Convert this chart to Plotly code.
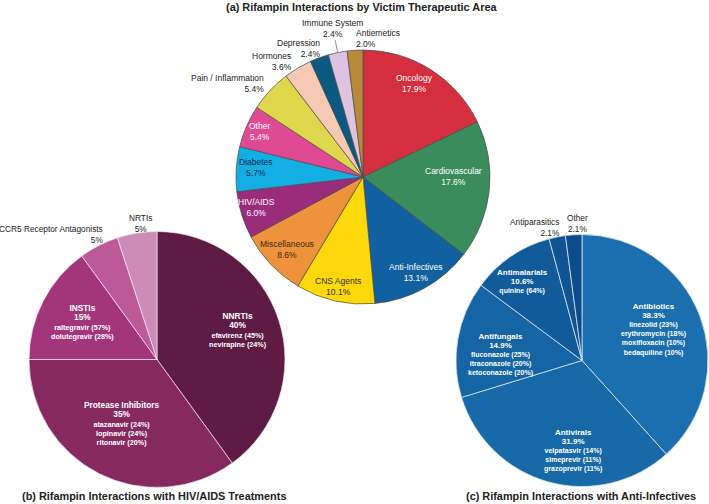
import math
import plotly.graph_objects as go

W, H = 709, 504

# ---------------- data ----------------
area_labels = ["Oncology", "Cardiovascular", "Anti-Infectives", "CNS Agents", "Miscellaneous",
               "HIV/AIDS", "Diabetes", "Other", "Pain / Inflammation", "Hormones",
               "Depression", "Immune System", "Antiemetics"]
area_values = [17.9, 17.6, 13.1, 10.1, 8.6, 6.0, 5.7, 5.4, 5.4, 3.6, 2.4, 2.4, 2.0]

hiv_labels = ["NNRTIs", "Protease Inhibitors", "INSTIs", "CCR5 Receptor Antagonists", "NRTIs"]
hiv_values = [40, 35, 15, 5, 5]
hiv_drugs = [["efavirenz (45%)", "nevirapine (24%)"],
             ["atazanavir (24%)", "lopinavir (24%)", "ritonavir (20%)"],
             ["raltegravir (57%)", "dolutegravir (28%)"],
             [], []]

ai_labels = ["Antibiotics", "Antivirals", "Antifungals", "Antimalarials", "Antiparasitics", "Other"]
ai_values = [38.3, 31.9, 14.9, 10.6, 2.1, 2.1]
ai_drugs = [["linezolid (23%)", "erythromycin (18%)", "moxifloxacin (10%)", "bedaquiline (10%)"],
            ["velpatasvir (14%)", "simeprevir (11%)", "grazoprevir (11%)"],
            ["fluconazole (25%)", "itraconazole (20%)", "ketoconazole (20%)"],
            ["quinine (64%)"],
            [], []]

titles = ["(a) Rifampin Interactions by Victim Therapeutic Area",
          "(b) Rifampin Interactions with HIV/AIDS Treatments",
          "(c) Rifampin Interactions with Anti-Infectives"]

# ---------------- style ----------------
FONT = "Liberation Sans, Arial, sans-serif"

area_colors = ["#d42e3f", "#3b8c5c", "#11609f", "#fdd80b", "#ee923b", "#9b2c7c", "#13aee3",
               "#e04a94", "#e0d84c", "#f5c9b4", "#0b5880", "#dec3e1", "#b98a3a"]
area_txtcol = ["#ffffff", "#ffffff", "#ffffff", "#333333", "#3a2a10", "#ffffff", "#1a2a4a",
               "#ffffff", "#222222", "#222222", "#222222", "#222222", "#222222"]
area_frac = [0.84, 0.71, 0.86, 0.88, 0.83, 0.875, 0.85, 0.89, 1.06, 1.06, 1.06, 1.19, 1.09]
area_dth = [-3, -6, 0, 0, 0, 1.7, 1.7, 0, 0.9, 0, 2.5, 0, 0]
area_anchor = ["center"] * 8 + ["right", "right", "right", "center", "left"]

hiv_colors = ["#5e1b43", "#86295f", "#a3367b", "#bc5a99", "#cd8bb8"]
hiv_txtcol = ["#ffffff", "#ffffff", "#ffffff", "#222222", "#222222"]
hiv_frac = [0.67, 0.57, 0.65, 1.06, 1.07]
hiv_dth = [-2, 2, 0, 4.4, 1.9]
hiv_anchor = ["center", "center", "center", "right", "center"]

ai_colors = ["#1b6fae", "#1769a8", "#1564a3", "#115b9b", "#0f5493", "#0c4c89"]
ai_txtcol = ["#ffffff"] * 4 + ["#222222", "#222222"]
ai_frac = [0.62, 0.72, 0.65, 0.78, 1.07, 1.09]
ai_dth = [-2.6, -9.8, -5.6, -2.7, 3, 1.7]
ai_anchor = ["center", "center", "center", "center", "right", "center"]

# pie geometry in page pixels: (cx, cy, r)
geo_a = (363, 177, 127)
geo_b = (157, 359.5, 128)
geo_c = (582, 360.5, 126)


def fx(px):
    return px / W


def fy(py):
    return 1 - py / H


def domain(geo):
    cx, cy, r = geo
    return dict(x=[fx(cx - r), fx(cx + r)], y=[fy(cy + r), fy(cy - r)])


def mids(values):
    tot = sum(values)
    out, cum = [], 0.0
    for v in values:
        out.append((cum + v / 2) / tot * 360.0)
        cum += v
    return out


def to_paper(geo, theta, frac):
    cx, cy, r = geo
    t = math.radians(theta)
    px = cx + frac * r * math.sin(t)
    py = cy - frac * r * math.cos(t)
    return fx(px), fy(py)


fig = go.Figure()

fig.add_trace(go.Pie(labels=area_labels, values=area_values, sort=False, direction="clockwise",
                     rotation=0, textinfo="none", hoverinfo="label+percent", showlegend=False,
                     marker=dict(colors=area_colors, line=dict(color="#4a4a4a", width=0.7)),
                     domain=domain(geo_a)))
fig.add_trace(go.Pie(labels=hiv_labels, values=hiv_values, sort=False, direction="clockwise",
                     rotation=0, textinfo="none", hoverinfo="label+percent", showlegend=False,
                     marker=dict(colors=hiv_colors, line=dict(color="#f3e6ee", width=0.7)),
                     domain=domain(geo_b)))
fig.add_trace(go.Pie(labels=ai_labels, values=ai_values, sort=False, direction="clockwise",
                     rotation=0, textinfo="none", hoverinfo="label+percent", showlegend=False,
                     marker=dict(colors=ai_colors, line=dict(color="#d6e6f4", width=0.8)),
                     domain=domain(geo_c)))

annotations = []
shapes = []

# (a) labels
for lab, val, th, fr, dth, anc, col in zip(area_labels, area_values, mids(area_values),
                                           area_frac, area_dth, area_anchor, area_txtcol):
    x, y = to_paper(geo_a, th + dth, fr)
    annotations.append(dict(x=x, y=y, xref="paper", yref="paper", showarrow=False,
                            text=f"{lab}<br>{val:.1f}%", xanchor=anc, yanchor="middle",
                            align=anc, font=dict(family=FONT, size=8.5, color=col)))

# leader line for Immune System
imm_i = area_labels.index("Immune System")
th_imm = mids(area_values)[imm_i]
x0, y0 = to_paper(geo_a, th_imm, 1.0)
x1, y1 = to_paper(geo_a, th_imm, 1.1)
shapes.append(dict(type="line", xref="paper", yref="paper", x0=x0, y0=y0, x1=x1, y1=y1,
                   line=dict(color="#777777", width=0.8)))


def inner_text(lab, pct, drugs, hsize):
    s = f"<b><span style='font-size:{hsize}px'>{lab}<br>{pct}</span></b>"
    if drugs:
        s += "<br>" + "<br>".join(f"<b>{d}</b>" for d in drugs)
    return s


for lab, val, drugs, th, fr, dth, anc, col in zip(hiv_labels, hiv_values, hiv_drugs,
                                                  mids(hiv_values), hiv_frac, hiv_dth,
                                                  hiv_anchor, hiv_txtcol):
    x, y = to_paper(geo_b, th + dth, fr)
    pct = f"{val:.0f}%"
    if fr < 1:
        txt = inner_text(lab, pct, drugs, 8.3)
        fs = 7.2
    else:
        txt = f"{lab}<br>{pct}"
        fs = 8.3
    annotations.append(dict(x=x, y=y, xref="paper", yref="paper", showarrow=False,
                            text=txt, xanchor=anc, yanchor="middle", align=anc,
                            font=dict(family=FONT, size=fs, color=col)))

for lab, val, drugs, th, fr, dth, anc, col in zip(ai_labels, ai_values, ai_drugs,
                                                  mids(ai_values), ai_frac, ai_dth,
                                                  ai_anchor, ai_txtcol):
    x, y = to_paper(geo_c, th + dth, fr)
    pct = f"{val:.1f}%"
    if fr < 1:
        txt = inner_text(lab, pct, drugs, 8.0)
        fs = 7.0
    else:
        txt = f"{lab}<br>{pct}"
        fs = 8.3
    annotations.append(dict(x=x, y=y, xref="paper", yref="paper", showarrow=False,
                            text=txt, xanchor=anc, yanchor="middle", align=anc,
                            font=dict(family=FONT, size=fs, color=col)))

# titles (page pixel positions)
title_pos = [(361, 7), (154, 496), (581, 496)]
for t, (px, py) in zip(titles, title_pos):
    annotations.append(dict(x=fx(px), y=fy(py), xref="paper", yref="paper", showarrow=False,
                            text=f"<b>{t}</b>", xanchor="center", yanchor="middle",
                            font=dict(family=FONT, size=10.9, color="#222222")))

fig.update_layout(width=W, height=H, margin=dict(l=0, r=0, t=0, b=0),
                  paper_bgcolor="white", plot_bgcolor="white",
                  annotations=annotations, shapes=shapes)

fig.write_html("out.html", config={"displayModeBar": False},
               post_script="document.body.style.margin='0px';document.body.style.overflow='hidden';")
